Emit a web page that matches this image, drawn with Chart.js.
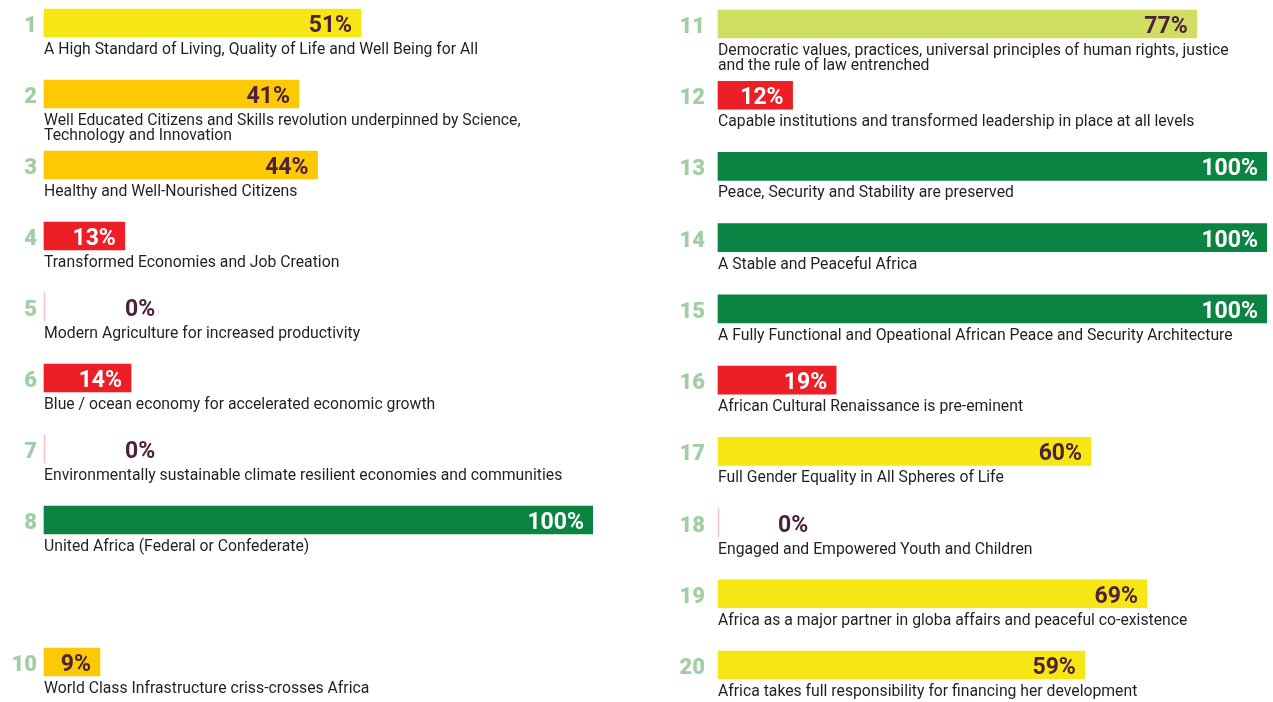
<!DOCTYPE html>
<html>
<head>
<meta charset="utf-8">
<script src="https://cdn.jsdelivr.net/npm/chart.js@4.4.1/dist/chart.umd.min.js"></script>
<style>
  html, body { margin: 0; padding: 0; background: #fff; }
  body { width: 1273px; height: 702px; position: relative; overflow: hidden; }
  canvas { position: absolute; top: 0; }
  #left { left: 0; }
  #right { left: 640px; }
</style>
</head>
<body>
<canvas id="left" width="640" height="702"></canvas>
<canvas id="right" width="633" height="702"></canvas>
<script>
// goals 1-10 (goal 9 has no entry in the source)
const leftGoals = ["1", "2", "3", "4", "5", "6", "7", "8", "9", "10"]
const leftValues = [51, 41, 44, 13, 0, 14, 0, 100, null, 9]
const leftStatus = ["Y", "A", "A", "R", "N", "R", "N", "G", null, "A"]
const leftTitles = [
  ["A High Standard of Living, Quality of Life and Well Being for All"],
  ["Well Educated Citizens and Skills revolution underpinned by Science,", "Technology and Innovation"],
  ["Healthy and Well-Nourished Citizens"],
  ["Transformed Economies and Job Creation"],
  ["Modern Agriculture for increased productivity"],
  ["Blue / ocean economy for accelerated economic growth"],
  ["Environmentally sustainable climate resilient economies and communities"],
  ["United Africa (Federal or Confederate)"],
  [],
  ["World Class Infrastructure criss-crosses Africa"]
]

// goals 11-20
const rightGoals = ["11", "12", "13", "14", "15", "16", "17", "18", "19", "20"]
const rightValues = [77, 12, 100, 100, 100, 19, 60, 0, 69, 59]
const rightStatus = ["L", "R", "G", "G", "G", "R", "Y", "N", "Y", "Y"]
const rightTitles = [
  ["Democratic values, practices, universal principles of human rights, justice", "and the rule of law entrenched"],
  ["Capable institutions and transformed leadership in place at all levels"],
  ["Peace, Security and Stability are preserved"],
  ["A Stable and Peaceful Africa"],
  ["A Fully Functional and Opeational African Peace and Security Architecture"],
  ["African Cultural Renaissance is pre-eminent"],
  ["Full Gender Equality in All Spheres of Life"],
  ["Engaged and Empowered Youth and Children"],
  ["Africa as a major partner in globa affairs and peaceful co-existence"],
  ["Africa takes full responsibility for financing her development"]
]

const fills = { Y: "#f6e714", A: "#fdc905", R: "#ec1f27", G: "#0b8443", L: "#d0df62", N: "#f5c6cb" }
const labelColors = { Y: "#4c2139", A: "#4c2139", R: "#ffffff", G: "#ffffff", L: "#4c2139", N: "#4c2139" }

// the infographic stretches the scale, 100% bars run off the end and get cut
const SCALE_MAX = 88.3
// no condensed face installed, so squeeze a regular one horizontally
const DESC_FONT = "17px Roboto"
let descScale = null

const goalText = {
  id: "goalText",
  afterDatasetsDraw(chart, args, opts) {
    const { ctx, chartArea } = chart
    const x = chart.scales.x
    const y = chart.scales.y
    const values = chart.data.datasets[0].data
    const start = x.getPixelForValue(0)

    if (descScale === null) {
      ctx.font = DESC_FONT
      descScale = 434 / ctx.measureText(leftTitles[0][0]).width
    }

    ctx.save()
    chart.data.labels.forEach((goal, i) => {
      const v = values[i]
      if (v === null) return
      const cy = y.getPixelForValue(i)
      const st = opts.status[i]

      // goal number
      ctx.font = "900 22px Roboto"
      ctx.fillStyle = "#9fcfa3"
      ctx.textAlign = "right"
      ctx.textBaseline = "alphabetic"
      ctx.fillText(goal, start - opts.numberGap, cy + 9)

      // percentage
      ctx.font = "bold 23px Roboto"
      ctx.fillStyle = labelColors[st]
      if (v === 0) {
        ctx.textAlign = "left"
        ctx.fillText(v + "%", start + opts.zeroOffset, cy + 9)
      } else {
        const end = Math.min(x.getPixelForValue(v), chartArea.right)
        ctx.fillText(v + "%", end - 9, cy + 9)
      }

      // description
      ctx.font = DESC_FONT
      ctx.fillStyle = "#231f20"
      ctx.textAlign = "left"
      opts.titles[i].forEach((line, j) => {
        ctx.save()
        ctx.translate(start, cy + 31 + j * 15)
        ctx.scale(descScale, 1)
        ctx.fillText(line, 0, 0)
        ctx.restore()
      })
    })
    ctx.restore()
  }
}

function makeChart(id, goals, values, status, titles, padding, numberGap, zeroOffset) {
  return new Chart(document.getElementById(id), {
    type: "bar",
    data: {
      labels: goals,
      datasets: [{
        data: values,
        backgroundColor: status.map(s => fills[s] || "transparent"),
        borderWidth: 0,
        barThickness: 28,
        minBarLength: 1,
        clip: { left: false, right: 0, top: false, bottom: false }
      }]
    },
    options: {
      indexAxis: "y",
      responsive: false,
      animation: false,
      layout: { padding: padding },
      scales: {
        x: { display: false, min: 0, max: SCALE_MAX },
        y: { display: false, offset: false }
      },
      plugins: {
        legend: { display: false },
        tooltip: { enabled: false },
        goalText: { status: status, titles: titles, numberGap: numberGap, zeroOffset: zeroOffset }
      }
    },
    plugins: [goalText]
  })
}

makeChart("left", leftGoals, leftValues, leftStatus, leftTitles,
  { left: 44, right: 47, top: 23, bottom: 40 }, 7, 81)
makeChart("right", rightGoals, rightValues, rightStatus, rightTitles,
  { left: 78, right: 6, top: 24, bottom: 37 }, 13, 60)
</script>
</body>
</html>
